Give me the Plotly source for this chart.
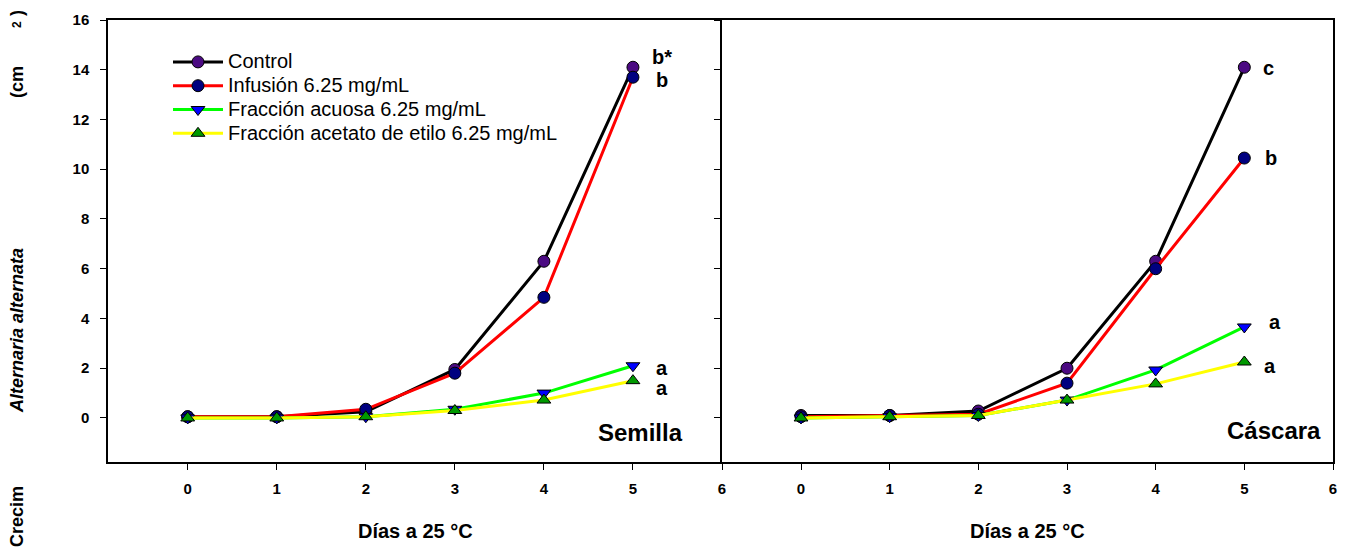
import plotly.graph_objects as go

days = [0, 1, 2, 3, 4, 5]
series_names = ["Control", "Infusión 6.25 mg/mL", "Fracción acuosa 6.25 mg/mL",
                "Fracción acetato de etilo 6.25 mg/mL"]

semilla_control = [0.05, 0.05, 0.25, 1.95, 6.3, 14.1]
semilla_infusion = [0.05, 0.05, 0.35, 1.8, 4.85, 13.7]
semilla_acuosa = [0.0, 0.0, 0.05, 0.35, 1.0, 2.1]
semilla_acetato = [0.0, 0.0, 0.05, 0.3, 0.72, 1.5]

cascara_control = [0.1, 0.1, 0.28, 2.0, 6.3, 14.1]
cascara_infusion = [0.05, 0.1, 0.15, 1.4, 6.0, 10.45]
cascara_acuosa = [0.0, 0.05, 0.1, 0.72, 1.93, 3.66]
cascara_acetato = [0.0, 0.05, 0.1, 0.72, 1.37, 2.25]

semilla_letters = ["b*", "b", "a", "a"]
semilla_letter_y = [14.5, 13.6, 2.0, 1.2]
cascara_letters = ["c", "b", "a", "a"]
cascara_letter_y = [14.07, 10.45, 3.86, 2.1]

line_colors = ["#000000", "#ff0000", "#00ff00", "#ffff00"]
marker_colors = ["#4b0a82", "#000080", "#0000ff", "#009900"]
marker_symbols = ["circle", "circle", "triangle-down", "triangle-up"]

FONT = "Liberation Sans, Arial, sans-serif"
W, H = 1353, 550
OFF = 8  # page body margin


def px(x):
    return (x - OFF) / W


def py(y):
    return 1 - (y - OFF) / H


fig = go.Figure()

panels = [
    ("x", "y", [semilla_control, semilla_infusion, semilla_acuosa, semilla_acetato], True),
    ("x2", "y2", [cascara_control, cascara_infusion, cascara_acuosa, cascara_acetato], False),
]
for xa, ya, data, show in panels:
    for i, vals in enumerate(data):
        fig.add_trace(go.Scatter(
            x=days, y=vals, mode="lines+markers",
            name=f'<span style="font-size:20px">{series_names[i]}</span>',
            xaxis=xa, yaxis=ya, showlegend=show, legendgroup=f"g{i}",
            line=dict(color=line_colors[i], width=3),
            marker=dict(symbol=marker_symbols[i], size=12, color=marker_colors[i],
                        line=dict(color="#000000", width=1)),
        ))

xd1 = [px(108), px(722)]
xd2 = [px(722), px(1333)]
yd = [py(462), py(20)]

axis_common = dict(
    showline=True, linecolor="#000000", linewidth=1.5,
    ticks="outside", ticklen=6, tickwidth=1.2, tickcolor="#000000",
    showgrid=False, zeroline=False, automargin=False,
    tickfont=dict(family=FONT, size=15, color="#000000", weight="bold"),
)

fig.update_layout(
    width=W, height=H,
    margin=dict(l=0, r=0, t=0, b=0),
    paper_bgcolor="white", plot_bgcolor="white",
    xaxis=dict(domain=xd1, range=[-0.895, 6], tickvals=[0, 1, 2, 3, 4, 5, 6],
               ticklabelstandoff=6, mirror=True, **axis_common),
    yaxis=dict(domain=yd, range=[-1.77, 16], tickvals=list(range(0, 17, 2)),
               ticklabelstandoff=8, anchor="x", mirror=False, **axis_common),
    xaxis2=dict(domain=xd2, range=[-0.891, 6], tickvals=[0, 1, 2, 3, 4, 5, 6],
                ticklabelstandoff=6, anchor="y2", mirror=True, **axis_common),
    yaxis2=dict(domain=yd, range=[-1.77, 16], tickvals=list(range(0, 17, 2)),
                showticklabels=False, anchor="x2", mirror=True, **axis_common),
    legend=dict(x=px(168), y=py(45), xanchor="left", yanchor="top",
                bgcolor="rgba(0,0,0,0)", traceorder="grouped", tracegroupgap=0,
                itemwidth=50,
                font=dict(family=FONT, size=16, color="#000000")),
    font=dict(family=FONT, color="#000000"),
)

annotations = []
for txt, yv in zip(semilla_letters, semilla_letter_y):
    annotations.append(dict(x=5.33, y=yv, xref="x", yref="y", text=txt, showarrow=False,
                            xanchor="center", yanchor="middle",
                            font=dict(family=FONT, size=20, weight="bold")))
cas_x = [5.27, 5.3, 5.35, 5.29]
for txt, yv, xv in zip(cascara_letters, cascara_letter_y, cas_x):
    annotations.append(dict(x=xv, y=yv, xref="x2", yref="y2", text=txt, showarrow=False,
                            xanchor="center", yanchor="middle",
                            font=dict(family=FONT, size=20, weight="bold")))
annotations.append(dict(x=5.09, y=-0.6, xref="x", yref="y", text="Semilla", showarrow=False,
                        xanchor="center", yanchor="middle",
                        font=dict(family=FONT, size=24, weight="bold")))
annotations.append(dict(x=5.33, y=-0.5, xref="x2", yref="y2", text="Cáscara", showarrow=False,
                        xanchor="center", yanchor="middle",
                        font=dict(family=FONT, size=24, weight="bold")))
# x titles
for cx in [415, 1027]:
    annotations.append(dict(x=px(cx), y=py(531), xref="paper", yref="paper",
                            xanchor="center", yanchor="middle",
                            text="Días a 25 °C", showarrow=False,
                            font=dict(family=FONT, size=20, weight="bold")))
# y title fragments (as shown in the reference)
ytitle_parts = [("Crecim", 517, 18, "normal"), ("Alternaria alternata", 331, 18, "italic"),
                ("(cm", 82, 18, "normal"), (")", 13, 18, "normal"), ("2", 25, 12, "normal")]
for txt, cy, fs, style in ytitle_parts:
    annotations.append(dict(x=px(17), y=py(cy), xref="paper", yref="paper",
                            xanchor="center", yanchor="middle",
                            text=txt, textangle=-90, showarrow=False,
                            font=dict(family=FONT, size=fs, weight="bold", style=style)))
fig.update_layout(annotations=annotations)

fig.write_html("out.html")
